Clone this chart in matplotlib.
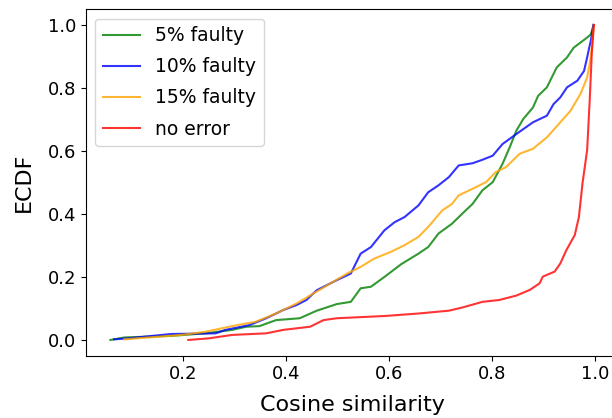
import matplotlib
matplotlib.use('Agg')
import matplotlib.pyplot as plt

# ECDF breakpoints (cosine similarity, cumulative fraction)
x_5 = [0.060, 0.087, 0.178, 0.244, 0.296, 0.323, 0.349, 0.381, 0.427, 0.460, 0.499,
       0.526, 0.545, 0.565, 0.591, 0.624, 0.657, 0.676, 0.696, 0.722, 0.742, 0.762,
       0.781, 0.801, 0.820, 0.834, 0.847, 0.860, 0.879, 0.889, 0.906, 0.925, 0.945,
       0.958, 0.984, 0.991, 0.997]
y_5 = [0.000, 0.008, 0.013, 0.021, 0.032, 0.042, 0.044, 0.063, 0.069, 0.093, 0.114,
       0.121, 0.164, 0.169, 0.200, 0.241, 0.274, 0.295, 0.338, 0.369, 0.401, 0.432,
       0.475, 0.501, 0.559, 0.612, 0.665, 0.701, 0.738, 0.775, 0.802, 0.865, 0.897,
       0.928, 0.960, 0.970, 1.000]

x_10 = [0.067, 0.093, 0.178, 0.264, 0.283, 0.329, 0.362, 0.395, 0.421, 0.440, 0.460,
        0.499, 0.526, 0.545, 0.565, 0.591, 0.611, 0.630, 0.657, 0.676, 0.696, 0.716,
        0.735, 0.762, 0.781, 0.801, 0.820, 0.847, 0.879, 0.906, 0.919, 0.932, 0.945,
        0.965, 0.978, 0.984, 0.988, 0.991, 0.996]
y_10 = [0.002, 0.005, 0.019, 0.021, 0.032, 0.047, 0.069, 0.095, 0.111, 0.127, 0.158,
        0.190, 0.211, 0.274, 0.295, 0.348, 0.374, 0.390, 0.427, 0.469, 0.491, 0.517,
        0.554, 0.561, 0.572, 0.585, 0.622, 0.654, 0.691, 0.712, 0.749, 0.770, 0.802,
        0.823, 0.854, 0.897, 0.928, 0.949, 1.000]

x_15 = [0.087, 0.198, 0.244, 0.296, 0.342, 0.381, 0.421, 0.454, 0.486, 0.519, 0.545,
        0.571, 0.604, 0.630, 0.657, 0.676, 0.703, 0.722, 0.735, 0.762, 0.788, 0.807,
        0.827, 0.853, 0.879, 0.906, 0.932, 0.952, 0.971, 0.984, 0.991, 0.997]
y_15 = [0.002, 0.016, 0.026, 0.044, 0.058, 0.084, 0.116, 0.148, 0.179, 0.211, 0.232,
        0.258, 0.280, 0.301, 0.327, 0.359, 0.411, 0.432, 0.459, 0.480, 0.501, 0.533,
        0.549, 0.591, 0.607, 0.643, 0.691, 0.728, 0.781, 0.833, 0.897, 1.000]

x_ok = [0.211, 0.250, 0.296, 0.362, 0.395, 0.447, 0.473, 0.499, 0.591, 0.657, 0.716,
        0.742, 0.781, 0.814, 0.847, 0.873, 0.892, 0.898, 0.921, 0.932, 0.944, 0.960,
        0.968, 0.975, 0.984, 0.989, 0.993, 0.997]
y_ok = [0.000, 0.005, 0.016, 0.021, 0.032, 0.042, 0.063, 0.069, 0.076, 0.084, 0.093,
        0.103, 0.121, 0.127, 0.141, 0.159, 0.180, 0.201, 0.217, 0.243, 0.286, 0.333,
        0.390, 0.497, 0.603, 0.762, 0.910, 1.000]

labels = ['5% faulty', '10% faulty', '15% faulty', 'no error']
colors = ['green', 'blue', 'orange', 'red']

fig = plt.figure(figsize=(6.12, 4.18), dpi=100)
# the reference is cropped on the right, so the axes run past the figure edge
ax = fig.add_axes([0.140, 0.149, 0.8725, 0.829])

series = [(x_5, y_5), (x_10, y_10), (x_15, y_15), (x_ok, y_ok)]
for (xs, ys), lab, col in zip(series, labels, colors):
    ax.plot(xs, ys, color=col, alpha=0.8, linewidth=1.5, label=lab)

ax.set_xlim(0.0121, 1.047)
ax.set_ylim(-0.05, 1.05)
ax.set_xticks([0.2, 0.4, 0.6, 0.8, 1.0])
ax.set_yticks([0.0, 0.2, 0.4, 0.6, 0.8, 1.0])
ax.tick_params(labelsize=13)
ax.set_xlabel('Cosine similarity', fontsize=16, labelpad=8)
ax.set_ylabel('ECDF', fontsize=16, labelpad=10)
ax.legend(loc='upper left', fontsize=13.5, labelspacing=0.65)

fig.savefig('out.png', dpi=100)
